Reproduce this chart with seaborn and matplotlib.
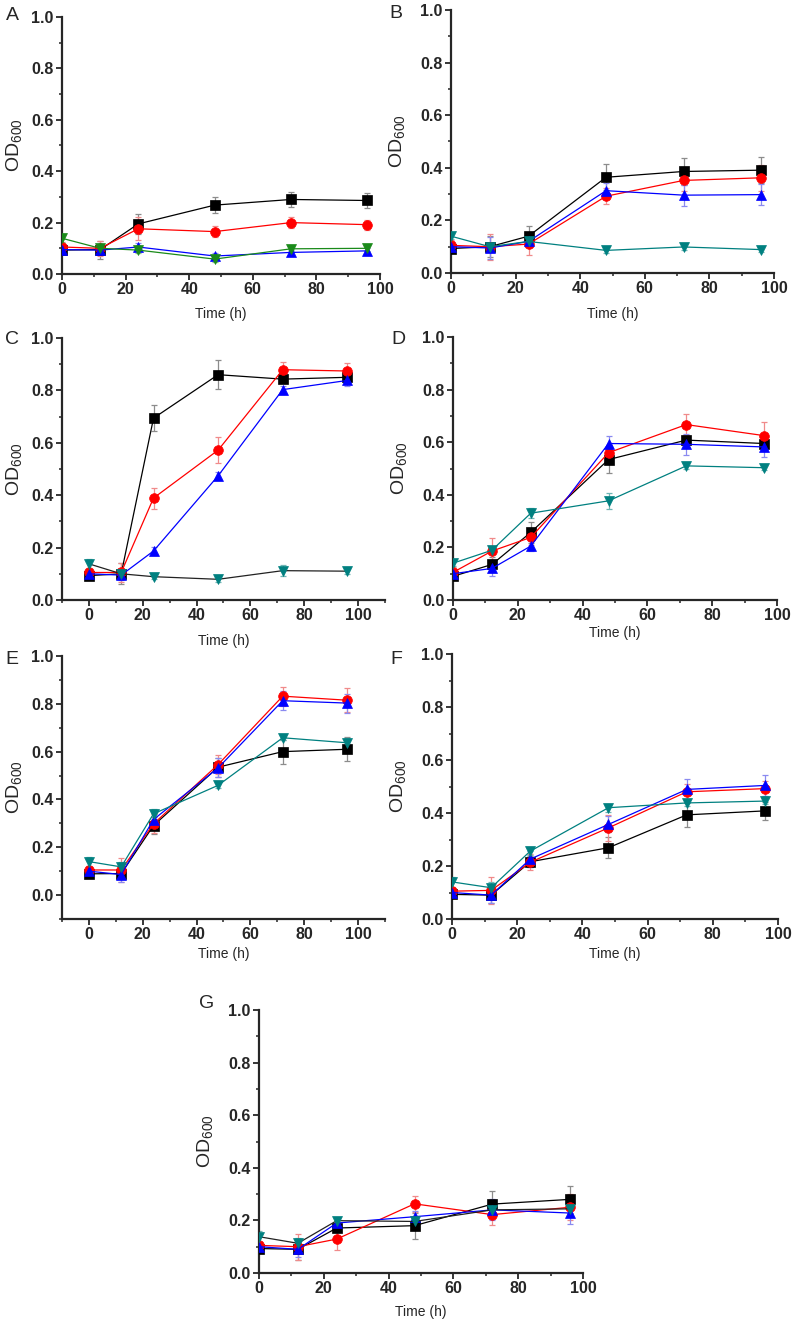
import matplotlib
matplotlib.use("Agg")
import matplotlib.pyplot as plt
from matplotlib.ticker import MultipleLocator
import seaborn as sns

# sampling times (h)
time_h = [0, 12, 24, 48, 72, 96]

# OD600 means, rows: square, circle, triangle-up, triangle-down
a_od = [[0.093, 0.095, 0.195, 0.268, 0.290, 0.286],
        [0.105, 0.100, 0.176, 0.165, 0.200, 0.192],
        [0.095, 0.093, 0.105, 0.070, 0.084, 0.090],
        [0.139, 0.100, 0.093, 0.058, 0.098, 0.100]]
a_err = [[0.010, 0.035, 0.040, 0.030, 0.030, 0.030],
         [0.010, 0.030, 0.045, 0.020, 0.020, 0.020],
         [0.010, 0.010, 0.015, 0.010, 0.010, 0.010],
         [0.015, 0.010, 0.010, 0.010, 0.010, 0.010]]

b_od = [[0.093, 0.100, 0.140, 0.364, 0.386, 0.391],
        [0.105, 0.100, 0.110, 0.292, 0.352, 0.362],
        [0.100, 0.095, 0.120, 0.313, 0.296, 0.298],
        [0.140, 0.100, 0.120, 0.086, 0.099, 0.089]]
b_err = [[0.010, 0.040, 0.040, 0.050, 0.050, 0.050],
         [0.020, 0.050, 0.040, 0.030, 0.040, 0.050],
         [0.010, 0.040, 0.020, 0.030, 0.040, 0.040],
         [0.010, 0.010, 0.010, 0.010, 0.010, 0.010]]

c_od = [[0.093, 0.100, 0.694, 0.860, 0.843, 0.850],
        [0.105, 0.105, 0.389, 0.572, 0.879, 0.874],
        [0.100, 0.095, 0.187, 0.474, 0.803, 0.838],
        [0.138, 0.100, 0.089, 0.079, 0.112, 0.110]]
c_err = [[0.010, 0.040, 0.050, 0.055, 0.010, 0.020],
         [0.010, 0.035, 0.040, 0.050, 0.030, 0.030],
         [0.010, 0.020, 0.015, 0.015, 0.015, 0.020],
         [0.020, 0.010, 0.010, 0.010, 0.020, 0.010]]

d_od = [[0.090, 0.135, 0.257, 0.534, 0.608, 0.595],
        [0.105, 0.186, 0.238, 0.560, 0.667, 0.625],
        [0.100, 0.120, 0.205, 0.595, 0.592, 0.582],
        [0.140, 0.189, 0.330, 0.377, 0.510, 0.503]]
d_err = [[0.010, 0.030, 0.040, 0.050, 0.020, 0.020],
         [0.020, 0.050, 0.030, 0.030, 0.040, 0.050],
         [0.010, 0.030, 0.020, 0.030, 0.040, 0.040],
         [0.010, 0.010, 0.020, 0.030, 0.010, 0.010]]

e_od = [[0.089, 0.090, 0.291, 0.535, 0.600, 0.610],
        [0.105, 0.105, 0.298, 0.546, 0.832, 0.815],
        [0.100, 0.086, 0.316, 0.532, 0.813, 0.803],
        [0.140, 0.118, 0.340, 0.459, 0.658, 0.637]]
e_err = [[0.010, 0.020, 0.035, 0.040, 0.050, 0.050],
         [0.010, 0.050, 0.040, 0.040, 0.040, 0.050],
         [0.010, 0.030, 0.030, 0.040, 0.040, 0.040],
         [0.020, 0.020, 0.020, 0.010, 0.010, 0.020]]

f_od = [[0.093, 0.090, 0.216, 0.269, 0.393, 0.408],
        [0.105, 0.108, 0.214, 0.344, 0.480, 0.492],
        [0.100, 0.090, 0.226, 0.357, 0.489, 0.504],
        [0.140, 0.118, 0.256, 0.420, 0.438, 0.445]]
f_err = [[0.010, 0.030, 0.020, 0.040, 0.045, 0.035],
         [0.010, 0.050, 0.030, 0.050, 0.030, 0.030],
         [0.010, 0.030, 0.030, 0.030, 0.040, 0.040],
         [0.020, 0.020, 0.015, 0.015, 0.010, 0.010]]

g_od = [[0.093, 0.090, 0.171, 0.180, 0.262, 0.280],
        [0.105, 0.100, 0.129, 0.263, 0.222, 0.250],
        [0.100, 0.090, 0.190, 0.214, 0.240, 0.228],
        [0.138, 0.113, 0.199, 0.196, 0.240, 0.244]]
g_err = [[0.010, 0.040, 0.030, 0.050, 0.050, 0.050],
         [0.010, 0.050, 0.040, 0.030, 0.040, 0.050],
         [0.010, 0.030, 0.020, 0.020, 0.040, 0.040],
         [0.020, 0.020, 0.010, 0.010, 0.020, 0.020]]

panel_names = ["A", "B", "C", "D", "E", "F", "G"]

sns.set_style("ticks")
plt.rcParams['font.family'] = ['Liberation Sans', 'DejaVu Sans']
plt.rcParams['mathtext.default'] = 'regular'

W, H = 793, 1323
fig = plt.figure(figsize=(W / 100, H / 100), dpi=100)


def box(l, t, r, b):
    return [l / W, 1 - b / H, (r - l) / W, (b - t) / H]


markers = ["s", "o", "^", "v"]
err_cols = ["#8c8c8c", "#f08a8a", "#8a8af0", "#6fb5b5"]

# panel: (data, err, axes box in px, xlim, ylim, label pos, xlabel offset, ylabel offset)
panels = [
    (a_od, a_err, (62, 17, 380, 274), (0, 100), (0, 1), (12, 16), 33, 38),
    (b_od, b_err, (451, 10, 774, 273), (0, 100), (0, 1), (396, 14), 34, 44),
    (c_od, c_err, (62, 338, 385, 600), (-10, 110), (0, 1), (12, 340), 34, 38),
    (d_od, d_err, (453, 337, 777, 600), (0, 100), (0, 1), (398, 340), 26, 44),
    (e_od, e_err, (62, 656, 385, 919), (-10, 110), (-0.1, 1), (12, 660), 28, 38),
    (f_od, f_err, (452, 654, 778, 919), (0, 100), (0, 1), (396, 660), 28, 44),
    (g_od, g_err, (259, 1010, 583, 1273), (0, 100), (0, 1), (207, 1003), 32, 44),
]

for name, (od, err, px, xl, yl, lab, xoff, yoff) in zip(panel_names, panels):
    ax = fig.add_axes(box(*px))
    cols = ["#000000", "#ff0000", "#0000ff", "#008080"]
    line_cols = list(cols)
    ecols = list(err_cols)
    if name == "A":
        cols[3] = "#1a8a1a"
        line_cols[3] = "#1a8a1a"
        ecols[3] = "#7fc07f"
    if name in ("C", "G"):
        line_cols[3] = "#222222"
    for i in range(4):
        ax.errorbar(time_h, od[i], yerr=err[i], fmt="none", ecolor=ecols[i],
                    elinewidth=0.9, capsize=2.5, capthick=0.9, zorder=2)
        sns.lineplot(x=time_h, y=od[i], ax=ax, color=line_cols[i], lw=0.9,
                     marker=markers[i], markersize=6.5 if i != 1 else 7,
                     markerfacecolor=cols[i], markeredgecolor=cols[i],
                     markeredgewidth=0.5, zorder=3 + i)
    ax.set_xlim(*xl)
    ax.set_ylim(*yl)
    ax.set_xticks([0, 20, 40, 60, 80, 100])
    ax.set_yticks([0.0, 0.2, 0.4, 0.6, 0.8, 1.0])
    ax.set_yticklabels(["0.0", "0.2", "0.4", "0.6", "0.8", "1.0"])
    ax.xaxis.set_minor_locator(MultipleLocator(10))
    ax.yaxis.set_minor_locator(MultipleLocator(0.1))
    for s in ["top", "right"]:
        ax.spines[s].set_visible(False)
    for s in ["left", "bottom"]:
        ax.spines[s].set_linewidth(1.6)
    ax.tick_params(which="major", direction="out", length=4, width=1.3,
                   labelsize=11.5, pad=2)
    ax.tick_params(which="minor", direction="out", length=2.5, width=1.1)
    for t in ax.get_xticklabels() + ax.get_yticklabels():
        t.set_fontweight("bold")
    wpx = px[2] - px[0]
    hpx = px[3] - px[1]
    ax.set_ylabel("OD$_{600}$", fontsize=14)
    ax.yaxis.set_label_coords(-yoff / wpx, 0.5)
    ax.set_xlabel("Time (h)", fontsize=10)
    ax.xaxis.set_label_coords(0.5, -xoff / hpx)
    fig.text(lab[0] / W, 1 - lab[1] / H, name, fontsize=14,
             ha="center", va="center")

fig.savefig("out.png", dpi=100)
